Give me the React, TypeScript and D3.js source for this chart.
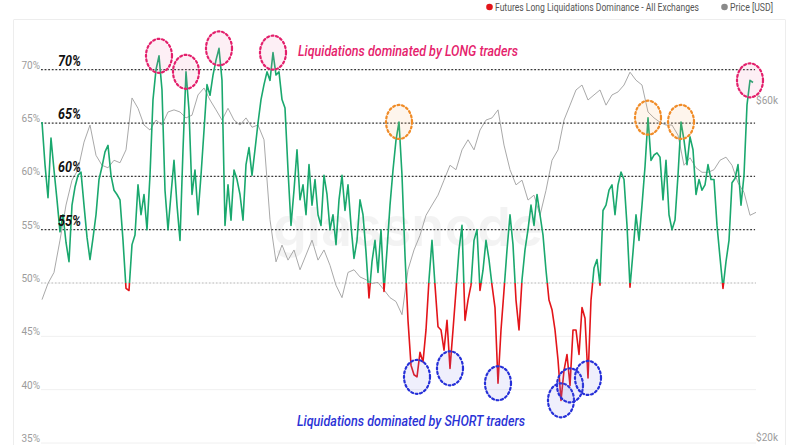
import React from "react";
import * as d3 from "d3";

// Futures Long Liquidations Dominance (%) – evenly sampled
const greenValues: number[] = [
  65.1, 61.1, 58.0, 63.6, 60.6, 57.8, 54.8, 56.4, 53.8, 52.0,
  57.3, 59.0, 60.1, 60.4, 57.3, 54.3, 52.2, 54.2, 56.4, 59.7,
  60.9, 62.3, 62.9, 60.1, 58.7, 58.3, 57.8, 54.0, 49.5, 49.3,
  53.6, 54.5, 59.2, 56.4, 58.3, 55.0, 60.1, 67.2, 70.0, 71.3,
  68.1, 58.7, 55.0, 58.3, 61.5, 57.3, 54.0, 62.5, 69.8, 66.2,
  58.3, 60.6, 56.4, 60.1, 64.3, 68.6, 67.6, 69.5, 70.9, 72.0,
  69.0, 55.4, 59.2, 55.9, 60.6, 59.7, 58.3, 55.9, 61.1, 62.7,
  60.1, 62.5, 65.0, 67.2, 68.6, 69.8, 69.0, 71.6, 69.5, 69.8,
  67.2, 66.4, 60.6, 55.4, 58.7, 62.5, 57.8, 59.2, 56.4, 61.1,
  57.3, 59.7, 56.4, 55.4, 60.1, 58.3, 55.0, 56.4, 53.6, 57.8,
  60.1, 56.8, 59.2, 55.4, 52.3, 54.0, 57.8, 56.4, 52.9, 48.6,
  52.0, 54.0, 51.0, 55.0, 49.2, 53.1, 57.3, 60.6, 63.4, 65.1,
  60.1, 52.6, 46.5, 42.3, 41.4, 41.2, 43.5, 42.6, 45.6, 50.3,
  54.0, 49.8, 45.9, 45.6, 43.7, 46.5, 42.0, 45.6, 49.3, 53.1,
  55.4, 46.5, 48.4, 49.8, 54.0, 55.0, 49.3, 51.2, 54.0, 52.2,
  49.8, 47.7, 40.6, 45.6, 49.3, 53.1, 56.4, 53.6, 48.4, 45.6,
  50.3, 53.1, 55.0, 57.3, 55.4, 58.3, 56.4, 54.5, 51.2, 48.4,
  47.5, 45.6, 42.8, 39.0, 41.8, 43.3, 40.4, 45.6, 45.6, 43.3,
  47.7, 46.7, 41.1, 48.4, 51.4, 52.2, 49.8, 56.8, 57.3, 58.7,
  59.2, 56.4, 59.2, 60.4, 59.7, 55.4, 49.6, 52.9, 56.4, 54.0,
  57.3, 60.9, 65.5, 61.5, 62.0, 62.2, 61.8, 57.8, 61.5, 56.4,
  55.0, 55.9, 60.1, 65.1, 63.4, 61.1, 63.7, 62.5, 58.3, 59.7,
  58.7, 59.2, 61.1, 59.7, 59.7, 55.4, 52.4, 49.5, 52.0, 54.0,
  59.4, 59.8, 61.1, 57.3, 60.1, 66.7, 69.0, 68.8,
];

// BTC price, thousands of USD – evenly sampled
const priceValues: number[] = [
  31.3, 33.0, 34.2, 38.0, 42.6, 46.2, 47.8, 52.3, 55.3, 50.1,
  48.5, 48.1, 49.3, 48.9, 51.0, 60.4, 58.4, 55.3, 54.4, 56.2,
  55.3, 57.7, 58.1, 57.7, 56.6, 57.1, 61.0, 62.4, 60.0, 58.1,
  56.2, 58.4, 56.2, 55.3, 56.6, 54.9, 55.3, 52.7, 40.6, 35.4,
  37.4, 35.6, 36.8, 34.5, 36.2, 38.0, 35.6, 36.8, 35.0, 32.8,
  31.5, 34.2, 34.5, 33.7, 33.4, 33.0, 33.1, 32.3, 31.5, 31.1,
  29.8, 34.5, 36.8, 38.6, 41.2, 42.6, 44.0, 46.2, 48.5, 47.8,
  51.0, 52.7, 51.0, 54.4, 56.2, 56.6, 58.1, 51.8, 47.8, 45.5,
  46.2, 43.3, 44.0, 41.2, 44.7, 49.3, 51.0, 56.2, 59.0, 62.0,
  63.0, 60.0, 61.0, 62.0, 59.0, 61.0, 61.6, 63.0, 65.7, 64.0,
  63.0, 57.7, 56.6, 55.8, 55.3, 55.3, 53.5, 48.5, 49.7, 48.1,
  47.4, 47.4, 47.8, 49.3, 49.8, 48.5, 45.8, 44.4, 41.2, 41.6,
];

const leftTicks: number[] = [35, 40, 45, 50, 55, 60, 65, 70];
const rightTicks: number[] = [20, 60];
const levelLines: number[] = [55, 60, 65, 70];
const longPeaks: number[] = [39, 48, 59, 77, 236];
const warnPeaks: number[] = [119, 202, 213];
const shortPeaks: number[] = [125, 136, 152, 173, 176, 182];

const legendMain = "Futures Long Liquidations Dominance - All Exchanges";
const legendPrice = "Price [USD]";
const longText = "Liquidations dominated by LONG traders";
const shortText = "Liquidations dominated by SHORT traders";

export default function App() {
  const W = 800;
  const H = 445;
  const x = d3.scaleLinear().domain([0, greenValues.length - 1]).range([42, 753]);
  const xp = d3.scaleLinear().domain([0, priceValues.length - 1]).range([42, 756]);
  const y = d3.scaleLinear().domain([35, 70]).range([443, 69.7]);
  const yp = d3.scaleLog().domain([20, 60]).range([437, 100]);

  const domLine = d3
    .line<number>()
    .x((_, i) => x(i))
    .y((d) => y(d));
  const priceLine = d3
    .line<number>()
    .x((_, i) => xp(i))
    .y((d) => yp(d));

  const y50 = y(50);
  const font = "Roboto, 'Noto Sans', sans-serif";
  const bigFont = "'Liberation Sans Narrow', 'Roboto', sans-serif";

  const ell = (idx: number[], stroke: string, fill: string, key: string) =>
    idx.map((i, k) => (
      <ellipse
        key={key + k}
        cx={x(i)}
        cy={y(greenValues[i])}
        rx={13}
        ry={17}
        fill={fill}
        stroke={stroke}
        strokeWidth={2.2}
        strokeDasharray="2 2.6"
        strokeLinecap="round"
      />
    ));

  return (
    <svg
      width={W}
      height={H}
      style={{ position: "absolute", left: 0, top: 0, background: "#fff" }}
    >
      <defs>
        <clipPath id="above">
          <rect x={0} y={0} width={W} height={y50} />
        </clipPath>
        <clipPath id="below">
          <rect x={0} y={y50} width={W} height={H - y50} />
        </clipPath>
      </defs>
      <rect x={0} y={0} width={W} height={H} fill="#fff" />
      {/* panel borders */}
      <line x1={13.5} x2={13.5} y1={20} y2={H} stroke="#ededed" />
      <line x1={785.5} x2={785.5} y1={20} y2={H} stroke="#ededed" />
      <line x1={13.5} x2={785.5} y1={19.5} y2={19.5} stroke="#ededed" />

      {/* legend */}
      <circle cx={489.5} cy={7} r={3.3} fill="#e3151a" />
      <text
        x={495}
        y={10.5}
        fontFamily={font}
        fontSize={10}
        fill="#555"
        textLength={204}
        lengthAdjust="spacingAndGlyphs"
      >
        {legendMain}
      </text>
      <circle cx={724.5} cy={7} r={3.3} fill="#8a8a8a" />
      <text
        x={730}
        y={10.5}
        fontFamily={font}
        fontSize={10}
        fill="#555"
        textLength={43}
        lengthAdjust="spacingAndGlyphs"
      >
        {legendPrice}
      </text>

      {/* grid */}
      {leftTicks.map((t) => (
        <g key={"g" + t}>
          <line x1={41} x2={756} y1={y(t)} y2={y(t)} stroke="#f0f0f0" />
          <text
            x={40}
            y={y(t) - 1}
            textAnchor="end"
            fontFamily={font}
            fontSize={10}
            fill="#9c9c9c"
          >
            {t}%
          </text>
        </g>
      ))}
      {rightTicks.map((t) => (
        <text
          key={"r" + t}
          x={756}
          y={yp(t) + 3.5}
          fontFamily={font}
          fontSize={10}
          fill="#9c9c9c"
        >
          ${t}k
        </text>
      ))}

      {/* watermark */}
      <text
        x={408}
        y={246}
        textAnchor="middle"
        fontFamily="Inter, Roboto, sans-serif"
        fontSize={54}
        fontWeight={600}
        fill="#000"
        opacity={0.045}
      >
        glassnode
      </text>

      {/* 50% dotted threshold */}
      <line
        x1={41}
        x2={756}
        y1={y50}
        y2={y50}
        stroke="#bdbdbd"
        strokeWidth={1}
        strokeDasharray="1.5 2"
      />

      {/* price */}
      <path d={priceLine(priceValues) || ""} fill="none" stroke="#a9a9a9" strokeWidth={1} />

      {/* level dotted lines */}
      {levelLines.map((l) => (
        <line
          key={"l" + l}
          x1={41}
          x2={755}
          y1={y(l)}
          y2={y(l)}
          stroke="#3a3a3a"
          strokeWidth={1.3}
          strokeDasharray="1.8 1.8"
        />
      ))}

      {/* dominance */}
      <path
        d={domLine(greenValues) || ""}
        fill="none"
        stroke="#1aa86e"
        strokeWidth={1.6}
        strokeLinejoin="round"
        clipPath="url(#above)"
      />
      <path
        d={domLine(greenValues) || ""}
        fill="none"
        stroke="#e3151a"
        strokeWidth={1.6}
        strokeLinejoin="round"
        clipPath="url(#below)"
      />

      {/* big level labels */}
      {levelLines.map((l) => (
        <text
          key={"b" + l}
          x={58}
          y={y(l) - 4}
          fontFamily={bigFont}
          fontSize={15}
          fontWeight="bold"
          fontStyle="italic"
          fill="#111"
          textLength={23}
          lengthAdjust="spacingAndGlyphs"
        >
          {l}%
        </text>
      ))}

      {/* annotations */}
      {ell(longPeaks, "#e3206c", "rgba(240,120,170,0.12)", "p")}
      {ell(warnPeaks, "#f08c28", "rgba(245,170,100,0.12)", "o")}
      {ell(shortPeaks, "#2630d8", "rgba(120,120,230,0.12)", "s")}

      <text
        x={298}
        y={56}
        fontFamily={font}
        fontSize={15}
        fontWeight={500}
        fontStyle="italic"
        fill="#e5226c"
        textLength={220}
        lengthAdjust="spacingAndGlyphs"
      >
        {longText}
      </text>
      <text
        x={297}
        y={426}
        fontFamily={font}
        fontSize={15}
        fontWeight={500}
        fontStyle="italic"
        fill="#2b33d6"
        textLength={228}
        lengthAdjust="spacingAndGlyphs"
      >
        {shortText}
      </text>
    </svg>
  );
}
